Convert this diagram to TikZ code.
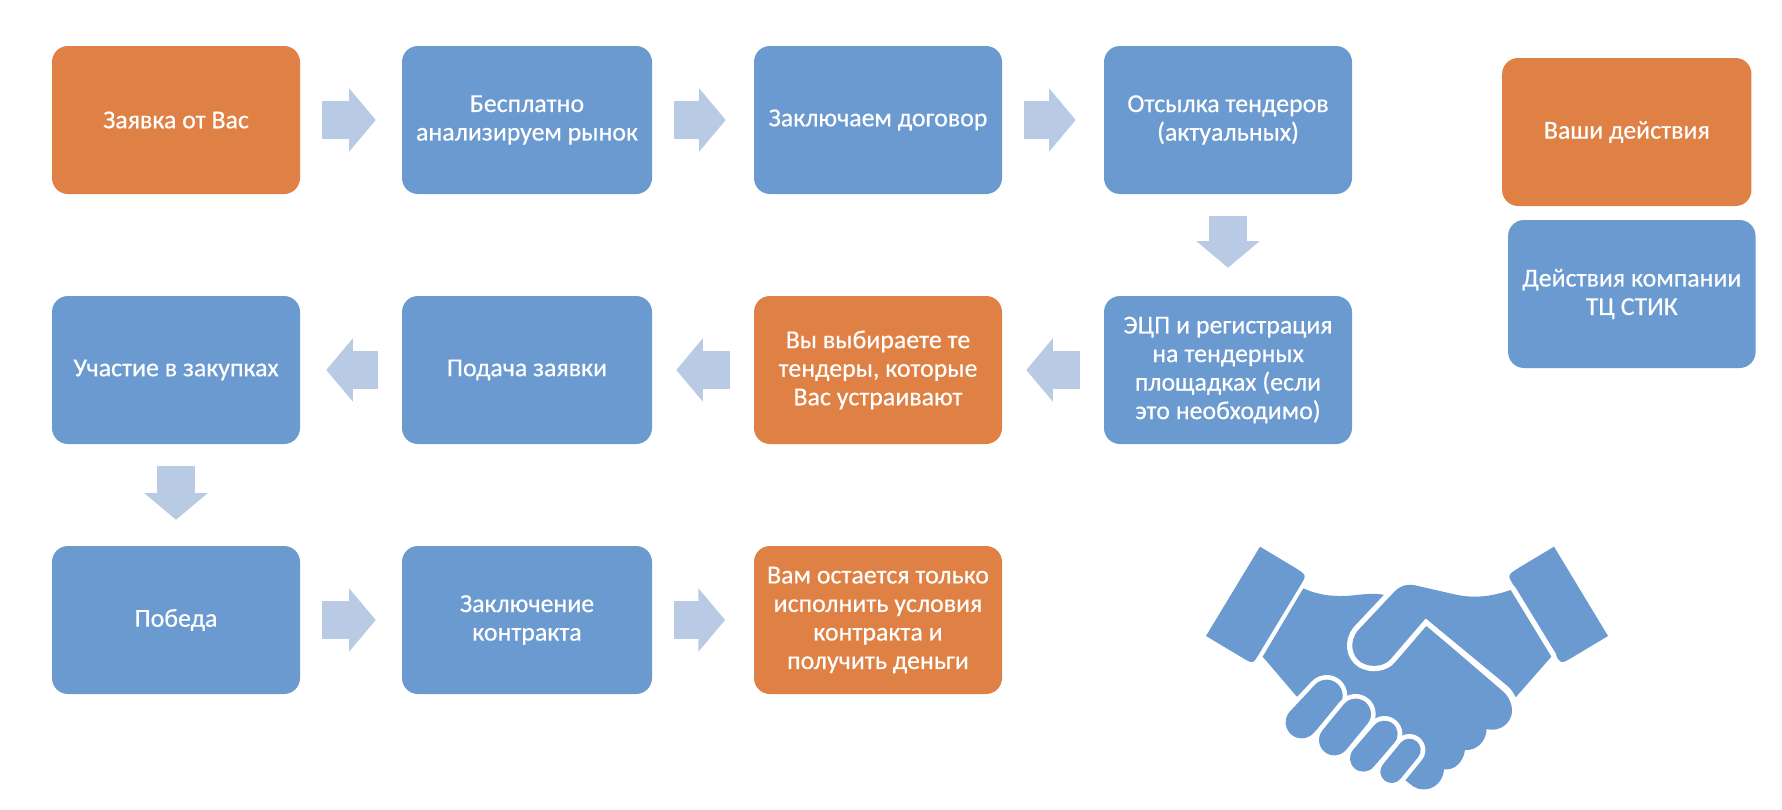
\documentclass[tikz,border=0pt]{standalone}
\usepackage{fontspec}
\setmainfont{Carlito}
\newfontfamily\boxfont[AutoFakeBold=0.4]{Carlito}
\usetikzlibrary{arrows.meta}
\definecolor{boxblue}{HTML}{6A9AD0}
\definecolor{boxorange}{HTML}{DF8144}
\definecolor{arrowblue}{HTML}{B8CAE4}
\tikzset{
  flowbox/.style={rounded corners=12pt,inner sep=0pt,minimum height=111pt,text=white,align=center,
    font=\fontsize{19.4}{21.4}\boxfont\bfseries},
  bluebox/.style={flowbox,fill=boxblue},
  orangebox/.style={flowbox,fill=boxorange},
  blockarrow/.style={draw=arrowblue,line width=28.5pt,
    -{Triangle[length=20pt,width=46.5pt,sep=0pt]}},
  handfill/.style={fill=boxblue,draw=none},
  halo/.style={draw=white,fill=white,line width=7pt,line join=round},
}
\begin{document}
\begin{tikzpicture}[x=0.75pt,y=-0.75pt]
\useasboundingbox[fill=white] (0,0) rectangle (1782,810);
% row 1
\node[orangebox,minimum width=186pt] (a1) at (176,120) {Заявка от Вас};
\node[bluebox,minimum width=187.5pt] (a2) at (527,120) {Бесплатно\\анализируем рынок};
\node[bluebox,minimum width=186pt] (a3) at (878,120) {Заключаем договор};
\node[bluebox,minimum width=186pt] (a4) at (1228,120) {Отсылка тендеров\\(актуальных)};
% row 2
\node[bluebox,minimum width=186pt] (b1) at (176,370) {Участие в закупках};
\node[bluebox,minimum width=187.5pt] (b2) at (527,370) {Подача заявки};
\node[orangebox,minimum width=186pt] (b3) at (878,370) {Вы выбираете те\\тендеры, которые\\Вас устраивают};
\node[bluebox,minimum width=186pt] (b4) at (1228,370) {ЭЦП и регистрация\\на тендерных\\площадках (если\\это необходимо)};
% row 3
\node[bluebox,minimum width=186pt] (c1) at (176,620) {Победа};
\node[bluebox,minimum width=187.5pt] (c2) at (527,620) {Заключение\\контракта};
\node[orangebox,minimum width=186pt] (c3) at (878,620) {Вам остается только\\исполнить условия\\контракта и\\получить деньги};
% legend
\node[orangebox,minimum width=187pt] (l1) at (1626.8,132) {Ваши действия};
\node[bluebox,minimum width=185.6pt] (l2) at (1631.8,294) {Действия компании\\ТЦ СТИК};
% connectors
\draw[blockarrow,shorten <=16.5pt,shorten >=19.5pt] (a1.east) -- (a2.west);
\draw[blockarrow,shorten <=16.5pt,shorten >=21pt] (a2.east) -- (a3.west);
\draw[blockarrow,shorten <=16.5pt,shorten >=21pt] (a3.east) -- (a4.west);
\draw[blockarrow,shorten <=16.5pt,shorten >=21pt] (a4.south) -- (b4.north);
\draw[blockarrow,shorten <=18pt,shorten >=18pt] (b4.west) -- (b3.east);
\draw[blockarrow,shorten <=18pt,shorten >=18pt] (b3.west) -- (b2.east);
\draw[blockarrow,shorten <=18pt,shorten >=19.5pt] (b2.west) -- (b1.east);
\draw[blockarrow,shorten <=16.5pt,shorten >=19.5pt] (b1.south) -- (c1.north);
\draw[blockarrow,shorten <=16.5pt,shorten >=19.5pt] (c1.east) -- (c2.west);
\draw[blockarrow,shorten <=16.5pt,shorten >=21.5pt] (c2.east) -- (c3.west);
% handshake
\begin{scope}[shift={(1150,510)},x=0.25pt,y=-0.25pt]
  % cuffs
  \fill[boxblue] (330,110) -- (435,173) .. controls (470,195) and (470,195) .. (452,225)
    -- (325,435) .. controls (309,462) and (309,462) .. (280,445) -- (168,378) -- cycle;
  \fill[boxblue] (1212,110) -- (1107,173) .. controls (1072,195) and (1072,195) .. (1090,225)
    -- (1217,435) .. controls (1233,462) and (1233,462) .. (1262,445) -- (1374,378) -- cycle;
  % left hand and palm
  \path[handfill] (460,235) .. controls (510,258) and (560,260) .. (600,257)
    .. controls (640,253) and (670,248) .. (705,255)
    -- (827,345) -- (1060,545)
    .. controls (1085,568) and (1090,600) .. (1083,620)
    .. controls (1072,650) and (1040,665) .. (1010,657)
    .. controls (1008,695) and (980,722) .. (945,720)
    .. controls (940,755) and (915,782) .. (882,778)
    .. controls (880,815) and (850,840) .. (820,838)
    .. controls (795,838) and (785,825) .. (765,810)
    -- (438,557) -- (338,440) -- cycle;
  % right hand with thumb, cut out of the palm
  \def\righthand{(1082,240) .. controls (1000,268) and (950,262) .. (900,250)
    -- (800,227) .. controls (770,220) and (750,228) .. (735,243)
    -- (625,360) .. controls (595,395) and (605,440) .. (635,458)
    .. controls (665,475) and (705,468) .. (722,447)
    -- (827,325) -- (1075,530)
    .. controls (1085,540) and (1092,550) .. (1097,562)
    -- (1204,440) -- cycle}
  \path[halo,line width=8pt] \righthand;
  \path[handfill] \righthand;
  % fingers
  \draw[white,line width=31pt,line cap=round] (455,637) -- (530,557);
  \draw[boxblue,line width=24pt,line cap=round] (455,637) -- (530,557);
  \draw[white,line width=30pt,line cap=round] (553,690) -- (617,612);
  \draw[boxblue,line width=23pt,line cap=round] (553,690) -- (617,612);
  \draw[white,line width=27pt,line cap=round] (640,745) -- (703,672);
  \draw[boxblue,line width=20pt,line cap=round] (640,745) -- (703,672);
  \draw[white,line width=24pt,line cap=round] (725,785) -- (778,720);
  \draw[boxblue,line width=17pt,line cap=round] (725,785) -- (778,720);
\end{scope}
\end{tikzpicture}
\end{document}
